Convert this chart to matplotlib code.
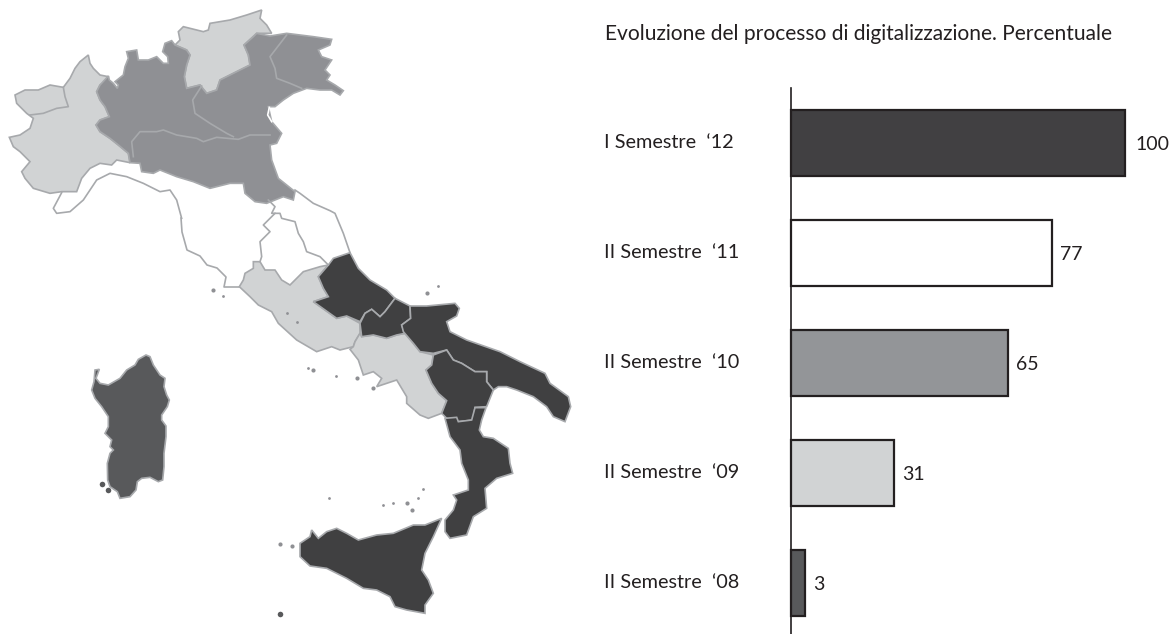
import matplotlib
matplotlib.use('Agg')
import matplotlib.pyplot as plt
from matplotlib.patches import Polygon

plt.rcParams['font.family'] = ['Lato', 'DejaVu Sans']

title = 'Evoluzione del processo di digitalizzazione. Percentuale'
semesters = ['I Semestre  ‘12', 'II Semestre  ‘11', 'II Semestre  ‘10', 'II Semestre  ‘09', 'II Semestre  ‘08']
values = [100, 77, 65, 31, 3]
# bars in the picture are a bit longer than the labels say for 77 and 3
bar_lengths = [100, 78.2, 65, 31, 4.3]
bar_colors = ['#414042', '#ffffff', '#939598', '#d1d3d4', '#58595b']

DARK = '#404041'
MID = '#8f9094'
LIGHT = '#d1d3d4'
SARD = '#58595b'
LINE = '#a7a9ac'

piemonte = [(265,165),(270,190),(280,205),(300,225),(325,230),(325,240),(300,255),(290,275),(300,300),(315,320),(328,350),(300,360),(288,375),(300,395),(330,415),(355,435),(385,460),(390,488),(350,480),(335,495),(300,490),(270,505),(245,535),(230,575),(185,575),(150,580),(100,565),(75,535),(65,515),(90,485),(60,455),(40,440),(28,412),(60,405),(90,385),(100,355),(80,340),(50,310),(45,285),(75,270),(115,270),(150,255),(190,262),(210,235),(225,205),(240,185)]
nord_est = [(325,228),(328,240),(340,250),(352,265),(355,255),(345,245),(370,225),(375,200),(385,175),(380,155),(410,150),(415,180),(445,180),(470,170),(490,190),(505,190),(503,170),(488,155),(495,130),(515,122),(525,135),(560,150),(570,165),(560,195),(553,230),(560,265),(600,255),(620,280),(650,270),(660,240),(700,220),(750,195),(745,165),(732,135),(760,110),(770,100),(810,108),(860,100),(940,110),(995,118),(990,135),(955,150),(965,170),(995,180),(975,210),(990,225),(980,240),(1005,255),(1030,272),(1020,285),(995,270),(960,270),(920,265),(880,280),(850,300),(825,320),(805,320),(815,365),(845,400),(830,430),(810,435),(815,480),(835,535),(885,575),(880,600),(850,590),(800,610),(765,605),(735,580),(730,550),(690,550),(630,565),(580,545),(530,530),(480,510),(460,520),(425,515),(420,490),(390,488),(385,460),(355,435),(330,415),(300,395),(288,375),(300,360),(328,350),(315,320),(300,300),(290,275),(300,255)]
trentino = [(540,120),(535,95),(550,80),(610,95),(625,90),(630,70),(690,60),(740,45),(785,30),(780,55),(800,75),(815,100),(770,100),(732,135),(745,165),(750,195),(700,220),(660,240),(650,270),(620,280),(600,255),(560,265),(553,230),(560,195),(570,165),(560,150),(525,135)]
aosta_line = [(190,262),(195,290),(205,320),(170,325),(130,340),(90,345)]
lomb_ven = [(605,258),(578,300),(585,340),(630,370),(680,400),(700,410)]
lomb_emilia = [(400,470),(395,425),(420,395),(470,395),(490,390),(530,405),(590,415),(610,425),(650,412),(715,418),(750,405),(810,405)]
ven_friuli = [(860,105),(810,170),(825,205),(830,235),(870,250),(905,265)]
liguria_line = [(185,578),(160,625),(170,640),(210,635),(250,600),(290,540),(330,520),(380,530),(430,550),(480,575),(510,570),(530,600),(545,655)]
laguna = [(808,322),(803,345),(815,365)]

toscana_coast = [(181,218),(182,232),(187,250),(200,256),(207,265),(217,268),(226,277),(224,287),(239,287)]

lazio = [(118,290),(130,270),(135,250),(160,235),(160,215),(180,215),(195,240),(225,240),(245,270),(270,285),(310,245),(360,230),(385,225),(355,260),(370,295),(385,320),(340,335),(375,360),(410,385),(440,378),(480,400),(480,430),(465,455),(460,470),(420,480),(395,470),(350,485),(290,450),(235,400),(215,365),(175,345),(150,320)]
abruzzo = [(385,225),(400,205),(450,188),(475,235),(510,270),(560,300),(585,325),(555,365),(540,380),(515,358),(495,370),(480,395),(440,378),(410,385),(375,360),(340,335),(385,320),(370,295),(355,260)]
molise = [(585,325),(630,348),(632,385),(605,405),(615,430),(590,435),(560,445),(520,435),(485,440),(480,400),(495,370),(515,358),(540,380),(555,365)]
puglia = [(630,348),(680,348),(765,340),(778,355),(770,378),(740,395),(750,425),(800,450),(900,485),(960,515),(1035,550),(1050,580),(1105,620),(1112,650),(1095,695),(1060,680),(1040,650),(1000,620),(950,600),(920,590),(895,590),(880,600),(860,575),(860,545),(825,545),(785,520),(760,510),(740,480),(700,490),(660,485),(640,460),(610,425),(605,405),(632,385)]
campania = [(485,440),(520,435),(560,445),(590,435),(615,430),(640,460),(660,485),(700,495),(695,525),(678,540),(695,580),(715,610),(740,632),(725,670),(685,685),(660,675),(620,640),(620,620),(590,570),(560,580),(530,590),(545,565),(520,545),(490,555),(475,510),(450,478),(460,470),(465,455),(480,430)]
basilicata = [(700,495),(740,480),(760,510),(785,520),(825,545),(860,545),(860,575),(880,600),(860,650),(825,652),(820,690),(775,695),(740,685),(725,670),(740,632),(715,610),(695,580),(678,540),(695,525)]
marche_coast = [(205,30),(225,50),(215,70),(240,70),(245,85),(285,95),(295,130),(310,155),(320,185),(360,200),(385,225)]
adriatic = [(285,0),(300,10),(340,40),(390,62),(405,70),(430,130),(450,188)]
umbria_west = [(225,70),(190,105),(210,125),(180,155),(185,200),(180,215)]

calabria = [(1155,235),(1190,232),(1195,245),(1235,240),(1245,203),(1278,203),(1265,240),(1258,270),(1270,290),(1300,295),(1345,325),(1350,370),(1358,400),(1310,415),(1275,445),(1280,505),(1240,530),(1220,585),(1170,595),(1155,575),(1155,540),(1180,510),(1190,480),(1180,465),(1225,450),(1225,420),(1205,370),(1200,330),(1170,290)]
sicilia = [(1145,535),(1120,590),(1095,640),(1085,690),(1105,720),(1120,760),(1095,795),(1095,820),(1040,810),(1005,800),(990,770),(950,750),(910,745),(860,715),(800,685),(750,678),(720,650),(720,610),(750,590),(755,570),(775,595),(800,575),(830,565),(860,580),(895,600),(950,585),(1000,580),(1060,555),(1095,555)]
sardegna = [(258,45),(270,50),(280,75),(290,90),(300,105),(315,115),(312,140),(320,165),(328,180),(322,200),(305,225),(305,240),(318,258),(318,290),(312,340),(312,380),(308,420),(295,425),(270,412),(245,415),(232,425),(228,450),(210,470),(180,475),(172,455),(150,440),(143,420),(142,370),(150,340),(160,330),(150,320),(155,300),(135,280),(145,260),(145,230),(125,200),(105,175),(95,150),(102,125),(105,90),(118,88),(108,115),(120,130),(145,135),(180,115),(200,90),(225,75),(235,58)]

isole_zoom2 = [(40,300),(340,540),(472,565),(518,595),(680,310)]
isolette_zoom2 = [(70,318),(325,535),(408,557),(715,288),(260,368),(290,395)]
isole_zoom3 = [(1040,490),(1055,510),(695,618),(660,612)]
isolette_zoom3 = [(1090,447),(1075,475),(1000,490),(970,495),(807,475)]
isole_scure = [(125,432),(145,450),(660,822)]


def z1(pts):
    return [(x / 3, y / 3) for x, y in pts]

def z2(pts):
    return [(200 + x / 3, 190 + y / 3) for x, y in pts]

def z3(pts):
    return [(60 + x / 3, 340 + y / 3) for x, y in pts]

def dots(pts, size, col):
    ax.scatter([p[0] for p in pts], [p[1] for p in pts], s=size, color=col, linewidths=0)


fig = plt.figure(figsize=(11.69, 6.34), dpi=100)

# map in image pixels
ax = fig.add_axes([0, 0, 1, 1])
ax.set_xlim(0, 1169)
ax.set_ylim(634, 0)
ax.axis('off')

regions = [
    (z1(piemonte), LIGHT), (z1(trentino), LIGHT), (z1(nord_est), MID),
    (z2(lazio), LIGHT), (z2(campania), LIGHT),
    (z2(abruzzo), DARK), (z2(molise), DARK), (z2(puglia), DARK), (z2(basilicata), DARK),
    (z3(calabria), DARK), (z3(sicilia), DARK), (z3(sardegna), SARD),
]
for pts, col in regions:
    ax.add_patch(Polygon(pts, closed=True, facecolor=col, edgecolor=LINE, linewidth=1.2))

lines = [z1(aosta_line), z1(lomb_ven), z1(lomb_emilia), z1(ven_friuli), z1(liguria_line),
         toscana_coast, z2(marche_coast), z2(adriatic), z2(umbria_west)]
for pts in lines:
    ax.plot([p[0] for p in pts], [p[1] for p in pts], color=LINE, lw=1.2)
ax.plot([p[0] for p in z1(laguna)], [p[1] for p in z1(laguna)], color='white', lw=1.2)

dots(z2(isole_zoom2) + z3(isole_zoom3), 9, MID)
dots(z2(isolette_zoom2) + z3(isolette_zoom3), 4, MID)
dots(z3(isole_scure), 16, SARD)

# bars
W, H = 1169, 634
left, right, top, bottom = 790.5, 1169, 88, 634
step = 109.9
first = 143.2
bx = fig.add_axes([left / W, 1 - bottom / H, (right - left) / W, (bottom - top) / H])
bx.patch.set_alpha(0)
px_unit = 3.345
bx.set_xlim(0, (right - left) / px_unit)
bx.set_ylim((bottom - first) / step, (top - first) / step)
pos = range(len(semesters))
bx.barh(pos, bar_lengths, height=66 / step, color=bar_colors, edgecolor='#231f20', linewidth=1.6, clip_on=False)
for i, v in enumerate(values):
    gap = 7.8 if v == 100 else 5.8
    bx.annotate(str(v), (bar_lengths[i], i), xytext=(gap, -1), textcoords='offset points',
                va='center', ha='left', fontsize=14, color='#231f20', annotation_clip=False)
bx.set_yticks([])
bx.set_xticks([])
for s in ['top', 'right', 'bottom']:
    bx.spines[s].set_visible(False)
bx.spines['left'].set_color('#231f20')
bx.spines['left'].set_linewidth(1.2)

for i, s in enumerate(semesters):
    fig.text(604 / W, 1 - (first - 0.5 + step * i) / H, s, fontsize=14.3, va='center', ha='left', color='#231f20')
fig.text(605 / W, 1 - 34 / H, title, fontsize=15.15, va='center', ha='left', color='#231f20')

fig.savefig('out.png', dpi=100)
